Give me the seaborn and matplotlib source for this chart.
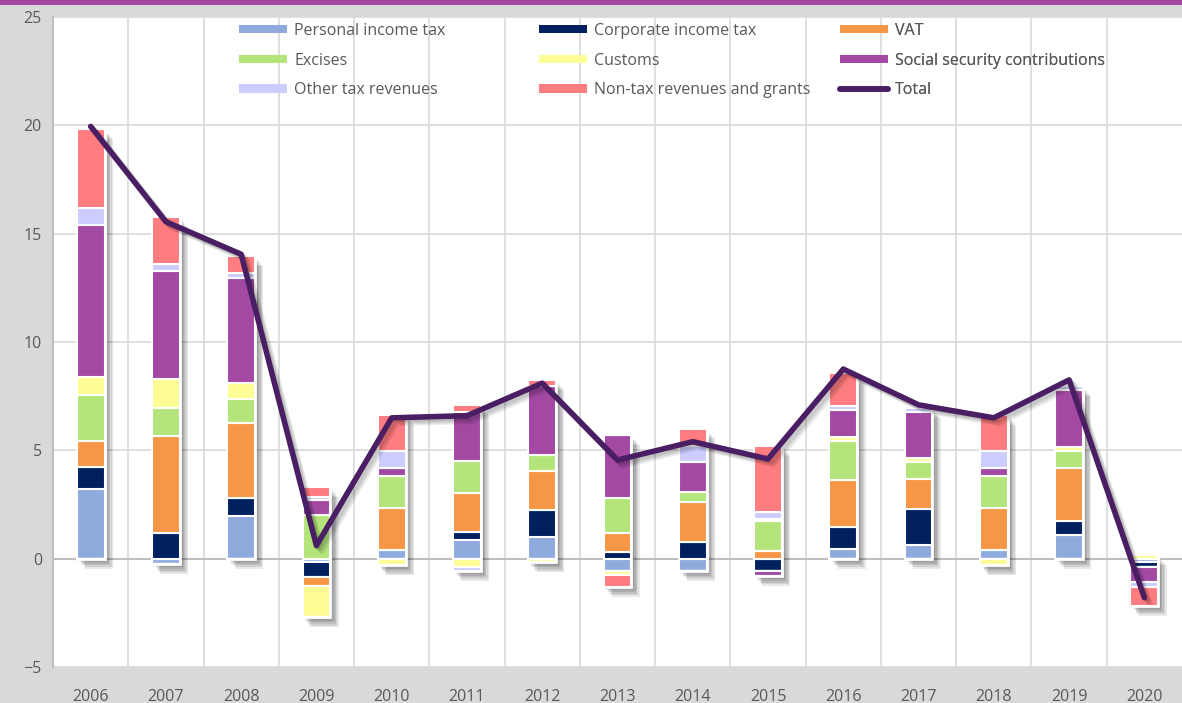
import numpy as np
import matplotlib
matplotlib.use("Agg")
import matplotlib.pyplot as plt
import matplotlib.patheffects as pe
from matplotlib.patches import Rectangle
from matplotlib.lines import Line2D
import seaborn as sns

# Years on the x axis
years = ["2006", "2007", "2008", "2009", "2010", "2011", "2012", "2013",
         "2014", "2015", "2016", "2017", "2018", "2019", "2020"]

# Contributions of each revenue item
pit = [3.2, -0.25, 1.95, -0.15, 0.4, 0.85, 1.0, -0.55, -0.55, 0.0, 0.45, 0.65, 0.4, 1.1, -0.15]
cit = [1.05, 1.2, 0.85, -0.7, 0.0, 0.4, 1.25, 0.3, 0.75, -0.55, 1.0, 1.65, 0.0, 0.65, -0.22]
vat = [1.2, 4.45, 3.45, -0.4, 1.95, 1.8, 1.8, 0.9, 1.85, 0.35, 2.2, 1.4, 1.95, 2.45, 0.0]
excises = [2.1, 1.3, 1.1, 2.0, 1.45, 1.45, 0.75, 1.6, 0.5, 1.4, 1.8, 0.75, 1.45, 0.75, 0.0]
customs = [0.85, 1.35, 0.75, -1.45, -0.3, -0.4, -0.17, -0.2, 0.0, 0.1, 0.15, 0.2, -0.3, 0.2, 0.15]
ssc = [7.0, 5.0, 4.85, 0.7, 0.4, 2.25, 3.15, 2.9, 1.35, -0.25, 1.25, 2.1, 0.4, 2.65, -0.72]
other = [0.8, 0.3, 0.25, 0.15, 0.75, -0.15, 0.0, 0.0, 0.75, 0.3, 0.2, 0.2, 0.75, 0.15, -0.2]
nontax = [3.65, 2.15, 0.75, 0.45, 1.7, 0.35, 0.3, -0.55, 0.8, 3.05, 1.5, 0.0, 1.7, 0.0, -0.9]
total = [19.95, 15.55, 14.05, 0.6, 6.5, 6.6, 8.1, 4.55, 5.4, 4.6, 8.75, 7.1, 6.5, 8.25, -1.8]

names = ["Personal income tax", "Corporate income tax", "VAT", "Excises", "Customs",
         "Social security contributions", "Other tax revenues", "Non-tax revenues and grants"]
series = [pit, cit, vat, excises, customs, ssc, other, nontax]
colors = ["#8faadc", "#002060", "#f79646", "#b3e57a", "#fdfd96",
          "#a349a4", "#ccccff", "#ff7c80"]
line_color = "#4a1e62"
grey_txt = "#595959"

sns.set_theme(style="white")
plt.rcParams['font.family'] = ['Open Sans', 'DejaVu Sans']

fig = plt.figure(figsize=(11.82, 7.03), dpi=100, facecolor="#d9d9d9")
fig.patches.append(Rectangle((0, 1 - 5 / 703), 1, 5 / 703, transform=fig.transFigure,
                             facecolor="#a349a4", edgecolor="none", zorder=0))
ax = fig.add_axes([53 / 1182, 1 - 667 / 703, 1129 / 1182, 650 / 703])
ax.set_facecolor("white")

x = np.arange(len(years))
width = 0.37
data = np.array(series)
pos = np.where(data > 0, data, 0)
neg = np.where(data < 0, data, 0)
top = pos.sum(axis=0)
bot = neg.sum(axis=0)

# soft drop shadow: a few stacked faint shadows
bar_shadow = [pe.SimplePatchShadow(offset=(d, -d * 1.2), shadow_rgbFace="black", alpha=0.09)
              for d in (1, 2, 3, 4, 5, 6)] + [pe.Normal()]
line_shadow = [pe.SimpleLineShadow(offset=(d, -d), shadow_color="black", alpha=0.08)
               for d in (1, 2, 3, 4)] + [pe.Normal()]

# white backing bar for each stack
ax.bar(x, top - bot, bottom=bot, width=width, color="white", edgecolor="white",
       linewidth=2, zorder=2, path_effects=bar_shadow)

pos_base = np.zeros(len(years))
neg_base = np.zeros(len(years))
for i in range(len(series)):
    p = pos[i]
    n = neg[i]
    ax.bar(x, p, bottom=pos_base, width=width, color=colors[i], edgecolor="white",
           linewidth=1.5, zorder=3)
    ax.bar(x, n, bottom=neg_base, width=width, color=colors[i], edgecolor="white",
           linewidth=1.5, zorder=3)
    pos_base = pos_base + p
    neg_base = neg_base + n

sns.lineplot(x=x, y=total, ax=ax, color=line_color, linewidth=4.0, zorder=5,
             solid_capstyle="round", solid_joinstyle="round", path_effects=line_shadow)

ax.set_xlim(-0.5, 14.5)
ax.set_ylim(-5, 25)
ax.set_yticks(range(-5, 30, 5))
ax.set_xticks(x)
ax.set_xticklabels(years)
ax.set_xticks(x[:-1] + 0.5, minor=True)
ax.grid(True, axis="y", which="major", color="#d9d9d9", linewidth=1.2, zorder=0)
ax.grid(True, axis="x", which="minor", color="#d9d9d9", linewidth=1.2, zorder=0)
ax.grid(False, axis="x", which="major")
ax.axhline(0, color="#bfbfbf", linewidth=1.5, zorder=1)
ax.set_axisbelow(True)
ax.tick_params(axis="both", which="both", length=0, colors=grey_txt, labelsize=11.5)
ax.tick_params(axis="x", pad=16)
ax.tick_params(axis="y", pad=8)
for s in ["top", "right", "bottom"]:
    ax.spines[s].set_visible(False)
ax.spines["left"].set_color("#bfbfbf")
ax.spines["left"].set_linewidth(1.5)

# legend: three columns placed separately
handles = [Rectangle((0, 0), 1, 1, facecolor=c, edgecolor="none") for c in colors]
handles.append(Line2D([0], [0], color=line_color, linewidth=4, solid_capstyle="round"))
labels = names + ["Total"]
cols = [[0, 3, 6], [1, 4, 7], [2, 5, 8]]
col_x = [(237 - 53) / 1129, (537 - 53) / 1129, (838 - 53) / 1129]
for j in range(3):
    leg = ax.legend([handles[k] for k in cols[j]], [labels[k] for k in cols[j]],
                    loc="upper left", bbox_to_anchor=(col_x[j] - 0.008, 1.008),
                    frameon=False, fontsize=11.5, labelcolor=grey_txt,
                    handlelength=3.0, handleheight=0.42, handletextpad=0.45,
                    labelspacing=0.85, borderaxespad=0.3)
    ax.add_artist(leg)

fig.savefig("out.png", dpi=100, facecolor=fig.get_facecolor())
